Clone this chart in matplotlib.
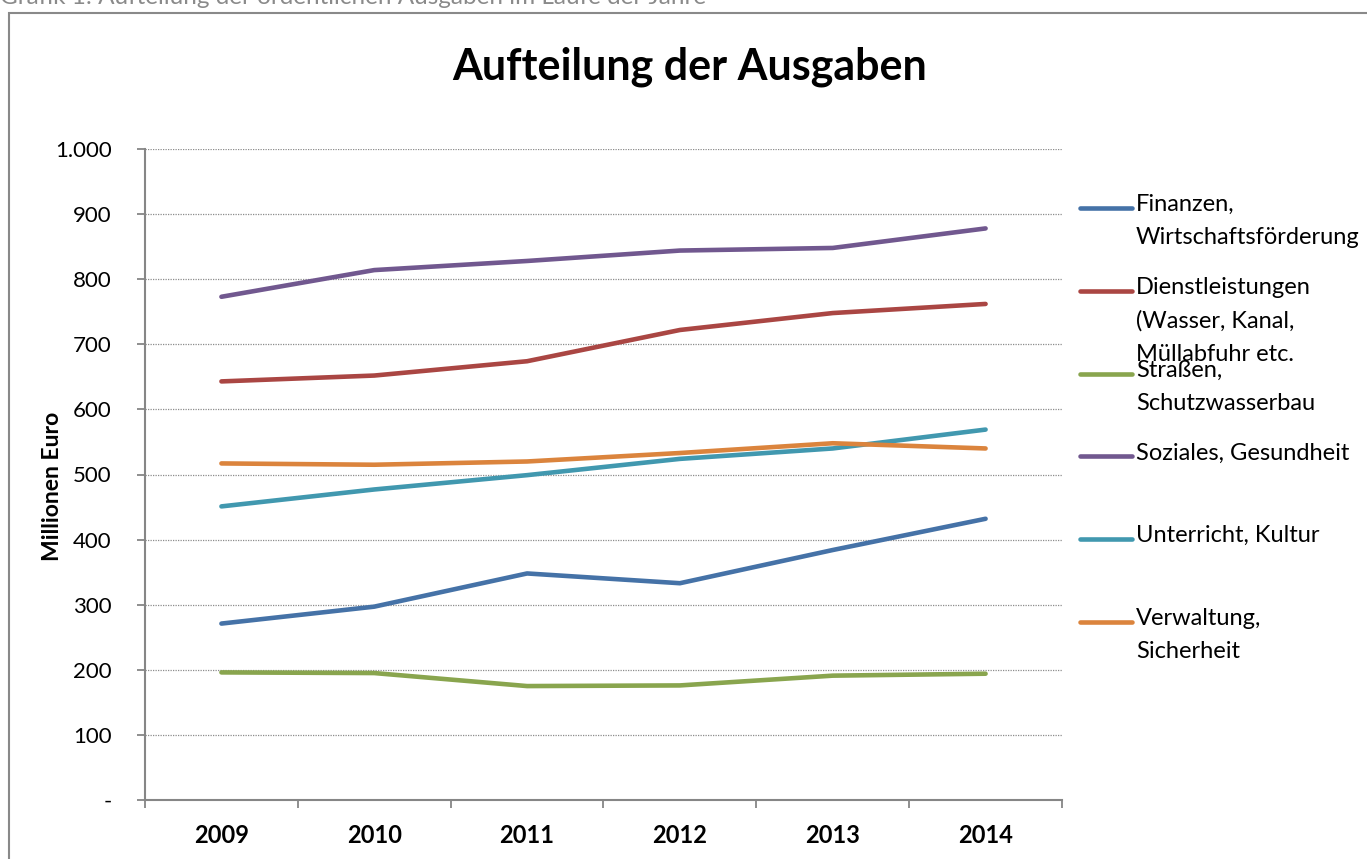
import matplotlib.pyplot as plt
from matplotlib.lines import Line2D
from matplotlib.patches import Rectangle

plt.rcParams['font.family'] = ['Lato', 'DejaVu Sans']

# data (million euro)
years = ['2009', '2010', '2011', '2012', '2013', '2014']
finanzen = [271, 297, 348, 333, 384, 432]
dienstleistungen = [643, 652, 674, 722, 748, 762]
strassen = [196, 195, 175, 176, 191, 194]
soziales = [773, 814, 828, 844, 848, 878]
unterricht = [451, 477, 499, 524, 540, 569]
verwaltung = [517, 515, 520, 533, 548, 540]

series_labels = ['Finanzen,\nWirtschaftsförderung',
                 'Dienstleistungen\n(Wasser, Kanal,\nMüllabfuhr etc.',
                 'Straßen,\nSchutzwasserbau',
                 'Soziales, Gesundheit',
                 'Unterricht, Kultur',
                 'Verwaltung,\nSicherheit']
series = [finanzen, dienstleistungen, strassen, soziales, unterricht, verwaltung]
colors = ['#4572A7', '#AA4643', '#89A54E', '#71588F', '#4198AF', '#DB843D']

yticks = [0, 100, 200, 300, 400, 500, 600, 700, 800, 900, 1000]
ytick_labels = ['-', '100', '200', '300', '400', '500', '600', '700', '800', '900', '1.000']

W, H = 1367, 859
fig = plt.figure(figsize=(W / 100, H / 100), dpi=100)
ax = fig.add_axes([145 / W, 1 - 800 / H, (1062 - 145) / W, (800 - 149) / H])

x = list(range(len(years)))
for vals, c in zip(series, colors):
    ax.plot(x, vals, color=c, lw=3.3, solid_capstyle='round', solid_joinstyle='round')

ax.set_xlim(-0.5, len(years) - 0.5)
ax.set_ylim(0, 1000)
ax.set_yticks(yticks)
ax.set_yticklabels(ytick_labels)
ax.yaxis.grid(True, linestyle=(0, (1, 1)), color='#8c8c8c', lw=0.9)
ax.set_axisbelow(True)

# category axis: ticks between categories, labels centred
ax.set_xticks([i - 0.5 for i in range(len(years) + 1)])
ax.set_xticklabels([])
ax.set_xticks(x, minor=True)
ax.set_xticklabels(years, minor=True, fontweight='bold', fontsize=17)
ax.tick_params(axis='x', which='minor', length=0, pad=17)
ax.tick_params(axis='x', which='major', length=6, color='#868686', width=1.3)
ax.tick_params(axis='y', length=6, color='#868686', width=1.3, labelsize=16, pad=18)

for s in ['top', 'right']:
    ax.spines[s].set_visible(False)
for s in ['left', 'bottom']:
    ax.spines[s].set_color('#868686')
    ax.spines[s].set_linewidth(1.5)

ax.set_ylabel('Millionen Euro', fontweight='bold', fontsize=16.5)
ax.yaxis.set_label_coords((63 - 145) / (1062 - 145), (800 - 486) / (800 - 149))

ax.set_title('Aufteilung der Ausgaben', fontweight='bold', fontsize=31, pad=50,
             x=(690 - 145) / (1062 - 145))

# legend drawn by hand, Excel style (handle at first text line)
y0, step = 208, 82.8
for i, (lab, c) in enumerate(zip(series_labels, colors)):
    yc = 1 - (y0 + i * step) / H
    fig.add_artist(Line2D([1080 / W, 1132 / W], [yc, yc], color=c, lw=3.3,
                          solid_capstyle='round', transform=fig.transFigure))
    fig.text(1136 / W, yc + 14 / H, lab, fontsize=17, va='top', ha='left',
             linespacing=1.72)

# outer chart border and clipped caption above it
fig.add_artist(Rectangle((9 / W, -0.05), 1.2, 1 - 13 / H + 0.05, fill=False,
                         edgecolor='#898989', lw=1.5, transform=fig.transFigure))
fig.text(0, 1 - 4 / H, 'Grafik 1: Aufteilung der ordentlichen Ausgaben im Laufe der Jahre',
         fontsize=17.5, color='#8a8a8a', va='baseline', ha='left')

fig.savefig('out.png', dpi=100)
